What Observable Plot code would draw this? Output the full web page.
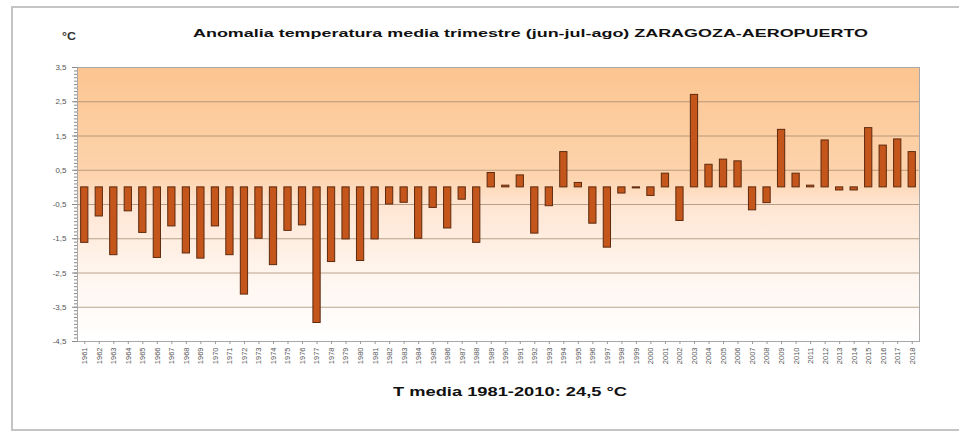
<!DOCTYPE html>
<html><head><meta charset="utf-8">
<script src="https://cdn.jsdelivr.net/npm/d3@7"></script>
<script src="https://cdn.jsdelivr.net/npm/@observablehq/plot@0.6"></script>
<style>
body{margin:0;background:#fff;font-family:"Liberation Sans",Arial,sans-serif;}
#wrap{position:relative;width:959px;height:433px;overflow:hidden;background:#fff;}
#frame{position:absolute;left:11px;top:6px;width:960px;height:425px;border:2px solid #c4c4c4;border-right:none;box-sizing:border-box;}
#chart{position:absolute;left:0;top:0;}
.lbl{position:absolute;white-space:nowrap;transform-origin:0 0;font-weight:bold;color:#111;line-height:1;}
</style></head><body>
<div id="wrap">
  <div id="frame"></div>
  <div id="chart"></div>
  <div id="unit" class="lbl" style="font-size:10px;color:#333">°C</div>
  <div id="title" class="lbl" style="font-size:11px">Anomalia temperatura media trimestre (jun-jul-ago) ZARAGOZA-AEROPUERTO</div>
  <div id="caption" class="lbl" style="font-size:13px">T media 1981-2010: 24,5 °C</div>
</div>
<script>
const years = ["1961","1962","1963","1964","1965","1966","1967","1968","1969","1970",
  "1971","1972","1973","1974","1975","1976","1977","1978","1979","1980",
  "1981","1982","1983","1984","1985","1986","1987","1988","1989","1990",
  "1991","1992","1993","1994","1995","1996","1997","1998","1999","2000",
  "2001","2002","2003","2004","2005","2006","2007","2008","2009","2010",
  "2011","2012","2013","2014","2015","2016","2017","2018"];
const anomalies = [-1.62,-0.85,-1.98,-0.70,-1.33,-2.06,-1.14,-1.93,-2.08,-1.14,
  -1.98,-3.13,-1.50,-2.27,-1.27,-1.11,-3.96,-2.18,-1.52,-2.15,
  -1.52,-0.50,-0.45,-1.50,-0.60,-1.20,-0.36,-1.62,0.42,0.05,
  0.35,-1.35,-0.55,1.03,0.13,-1.06,-1.76,-0.18,-0.03,-0.25,
  0.40,-0.98,2.70,0.66,0.81,0.76,-0.67,-0.46,1.68,0.40,
  0.05,1.37,-0.09,-0.09,1.73,1.22,1.40,1.03];
const yTicks = [3.5,2.5,1.5,0.5,-0.5,-1.5,-2.5,-3.5,-4.5];
const yMinorTicks = [3.5,3.4,3.3,3.2,3.1,3.0,2.9,2.8,2.7,2.6,2.5,2.4,2.3,2.2,2.1,2.0,1.9,1.8,1.7,1.6,
  1.5,1.4,1.3,1.2,1.1,1.0,0.9,0.8,0.7,0.6,0.5,0.4,0.3,0.2,0.1,0,-0.1,-0.2,-0.3,-0.4,
  -0.5,-0.6,-0.7,-0.8,-0.9,-1.0,-1.1,-1.2,-1.3,-1.4,-1.5,-1.6,-1.7,-1.8,-1.9,-2.0,-2.1,-2.2,-2.3,-2.4,
  -2.5,-2.6,-2.7,-2.8,-2.9,-3.0,-3.1,-3.2,-3.3,-3.4,-3.5,-3.6,-3.7,-3.8,-3.9,-4.0,-4.1,-4.2,-4.3,-4.4,-4.5];

const data = years.map((year, i) => ({year, value: anomalies[i]}));
const fmt = d => String(d).replace(".", ",");

const chart = Plot.plot({
  width: 959, height: 433,
  marginLeft: 77, marginRight: 40, marginTop: 67, marginBottom: 92,
  x: {domain: years, paddingInner: 0.5, paddingOuter: 0.25, round: false, label: null},
  y: {domain: [-4.5, 3.5], label: null},
  style: {background: "transparent", fontFamily: "Liberation Sans, Arial, sans-serif"},
  marks: [
    Plot.frame({fill: "url(#bgGrad)", stroke: "none"}),
    Plot.ruleY(yTicks, {stroke: "#a2866e", strokeOpacity: 0.75}),
    Plot.barY(data, {x: "year", y: "value", fill: "#c4561c", stroke: "#5e2a0e", strokeWidth: 1}),
    Plot.frame({stroke: "#a8a8a8"}),
    Plot.axisY(yMinorTicks, {tickSize: 3, tickFormat: () => "", stroke: "#8a8a8a", label: null}),
    Plot.axisY(yTicks, {tickSize: 5, tickPadding: 6, tickFormat: fmt, fontSize: 8, fill: "#555", stroke: "#8a8a8a", label: null}),
    Plot.axisX({tickRotate: -90, tickSize: 3, tickPadding: 3, fontSize: 7.5, fill: "#555", stroke: "#999", label: null})
  ]
});
chart.insertAdjacentHTML("afterbegin",
  `<defs><linearGradient id="bgGrad" x1="0" y1="0" x2="0" y2="1">
     <stop offset="0" stop-color="#fcc590"/>
     <stop offset="0.4" stop-color="#fdd4ae"/>
     <stop offset="0.5" stop-color="#fee5d2"/>
     <stop offset="0.75" stop-color="#fff5ee"/>
     <stop offset="1" stop-color="#ffffff"/>
   </linearGradient></defs>`);
document.getElementById("chart").appendChild(chart);

function place(id, left, right, top) {
  const el = document.getElementById(id);
  el.style.left = left + "px";
  el.style.top = top + "px";
  const w = el.getBoundingClientRect().width;
  el.style.transform = `scaleX(${(right - left) / w})`;
}
place("title", 193, 868, 28);
place("caption", 393, 627, 385);
place("unit", 62, 76, 32);
</script>
</body></html>
